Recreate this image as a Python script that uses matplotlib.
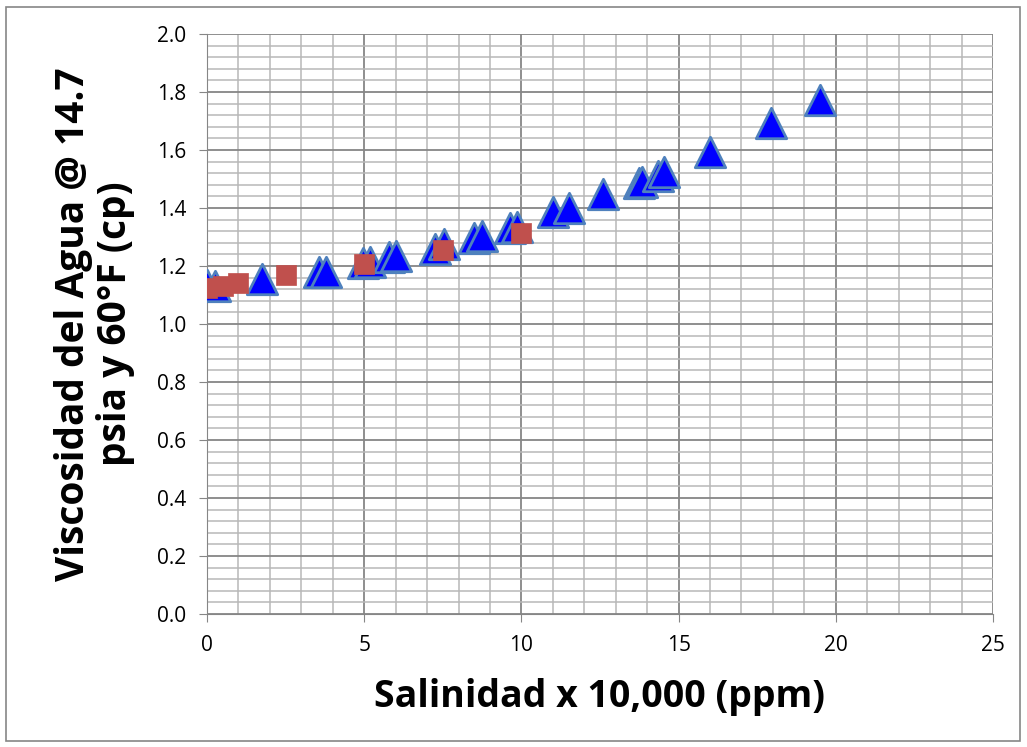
import matplotlib
matplotlib.use("Agg")
import matplotlib.pyplot as plt
from matplotlib.ticker import MultipleLocator
from matplotlib.patches import Rectangle

# datos
sal_tri = [0.0, 0.25, 1.75, 3.55, 3.8, 4.95, 5.2, 5.8, 6.0, 7.25, 7.55,
           8.5, 8.75, 9.65, 9.85, 11.0, 11.5, 12.6, 13.75, 13.85, 14.35,
           14.55, 16.0, 17.95, 19.5]
visc_tri = [1.135, 1.13, 1.155, 1.18, 1.18, 1.21, 1.215, 1.23, 1.235, 1.26,
            1.275, 1.295, 1.305, 1.33, 1.335, 1.385, 1.40, 1.448, 1.485,
            1.49, 1.51, 1.525, 1.593, 1.693, 1.774]
sal_sq = [0.0, 0.5, 1.0, 2.5, 5.0, 7.5, 10.0]
visc_sq = [1.124, 1.131, 1.14, 1.168, 1.207, 1.256, 1.314]

plt.rcParams['font.family'] = ['Open Sans', 'DejaVu Sans']

fig = plt.figure(figsize=(10.27, 7.47), dpi=100)
ax = fig.add_axes([207 / 1027, 1 - 614 / 747, 786 / 1027, 580 / 747])

fig.patches.append(Rectangle((6 / 1027, 6 / 747), 1014 / 1027, 734 / 747,
                             transform=fig.transFigure, fill=False,
                             edgecolor='#868686', linewidth=1.2))

ax.scatter(sal_tri, visc_tri, marker='^', s=480, c='#0000FF',
           edgecolors='#4F81BD', linewidths=2.0, zorder=3)
ax.scatter(sal_sq, visc_sq, marker='s', s=220, c='#C0504D',
           edgecolors='#C0504D', linewidths=0.5, zorder=4)

ax.set_xlim(0, 25)
ax.set_ylim(0, 2.0)
ax.xaxis.set_major_locator(MultipleLocator(5))
ax.xaxis.set_minor_locator(MultipleLocator(1))
ax.yaxis.set_major_locator(MultipleLocator(0.2))
ax.yaxis.set_minor_locator(MultipleLocator(0.04))
ax.yaxis.set_major_formatter(plt.FormatStrFormatter('%.1f'))

ax.grid(which='major', color='#868686', linewidth=1.3)
ax.grid(which='minor', color='#B8B8B8', linewidth=1.1)
ax.set_axisbelow(True)

for s in ['top', 'right']:
    ax.spines[s].set_visible(False)
ax.spines['left'].set_color('#868686')
ax.spines['bottom'].set_color('#868686')
ax.tick_params(which='major', direction='out', length=6, color='#868686',
               labelsize=15, pad=9)
ax.tick_params(which='minor', length=0)

ax.set_xlabel('Salinidad x 10,000 (ppm)', fontsize=27, fontweight='bold',
              labelpad=16)
ax.set_ylabel('Viscosidad del Agua @ 14.7\npsia y 60°F (cp)', fontsize=28,
              fontweight='bold', labelpad=16, linespacing=1.1)

fig.savefig('out.png', dpi=100)
